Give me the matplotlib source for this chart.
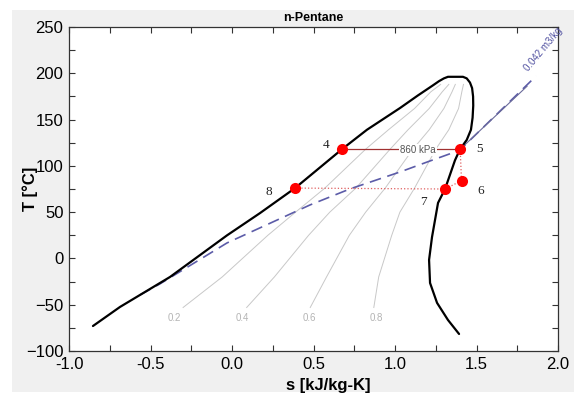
import matplotlib
matplotlib.use("Agg")
import matplotlib.pyplot as plt
from matplotlib.patches import Rectangle

# ---------------- data ----------------
# saturated liquid line (s [kJ/kg-K], T [C])
s_liq = [-0.853, -0.687, -0.38, -0.03, 0.172, 0.387, 0.675, 0.828, 1.031, 1.14, 1.233, 1.27, 1.30, 1.325]
T_liq = [-73, -52.4, -20, 25, 49, 76, 118, 139, 162.5, 176, 187, 191.5, 194.5, 196.2]
# saturated vapour line
s_vap = [1.417, 1.44, 1.46, 1.473, 1.479, 1.48, 1.476, 1.466, 1.44, 1.399, 1.368, 1.307, 1.264,
         1.227, 1.209, 1.215, 1.258, 1.325, 1.393]
T_vap = [196.2, 194.5, 190, 184, 175, 165, 152, 139, 128, 118, 106, 75, 60,
         23, -1.6, -26.5, -48, -66.5, -81.6]

# quality lines
T_q = [-53, -20, 25, 50, 76, 118, 139, 162, 180, 188]
s_q02 = [-0.30, -0.06, 0.22, 0.39, 0.57, 0.82, 0.96, 1.12, 1.22, 1.28]
s_q04 = [0.09, 0.26, 0.47, 0.60, 0.76, 0.97, 1.08, 1.21, 1.29, 1.33]
s_q06 = [0.48, 0.58, 0.72, 0.82, 0.94, 1.11, 1.21, 1.30, 1.35, 1.37]
s_q08 = [0.87, 0.90, 0.98, 1.03, 1.12, 1.25, 1.33, 1.39, 1.41, 1.42]
q_labels = ["0.2", "0.4", "0.6", "0.8"]
q_label_s = [-0.353, 0.061, 0.472, 0.883]
q_label_T = -64

# isochore 0.042 m3/kg
s_v042 = [-0.564, -0.442, -0.031, 0.479, 0.724, 1.031, 1.215, 1.368, 1.405, 1.828, 1.865]
T_v042 = [-39.4, -27.5, 16.7, 57.8, 75.1, 93.4, 105.3, 115.0, 118.3, 190.6, 197.1]
# thin solid line above point 5
s_thin = [1.40, 1.81]
T_thin = [118, 186]

# cycle state points
pt_names = ["4", "5", "6", "7", "8"]
pt_s = [0.675, 1.40, 1.408, 1.307, 0.387]
pt_T = [118, 118, 84, 75, 76]

# ---------------- figure ----------------
fig = plt.figure(figsize=(5.74, 4.03), dpi=100)
fig.patch.set_facecolor("white")
bg = Rectangle((12 / 574, 11 / 403), (574 - 12) / 574, (392 - 10) / 403,
               transform=fig.transFigure, facecolor="#f0f0f0",
               edgecolor="none", zorder=-10)
fig.patches.append(bg)
ax = fig.add_axes([69 / 574, 52 / 403, 489 / 574, 324 / 403])
ax.set_zorder(2)
ax.set_facecolor("white")

# quality lines
for sq, lab, ls_ in zip([s_q02, s_q04, s_q06, s_q08], q_labels, q_label_s):
    ax.plot(sq, T_q, color="#c8c8c8", lw=0.7, zorder=1)
    ax.text(ls_, q_label_T, lab, color="#b4b4b4", fontsize=7,
            ha="center", va="center", family="Liberation Sans")

# saturation dome
ax.plot(s_liq + s_vap, T_liq + T_vap, color="black", lw=1.6, zorder=3,
        solid_joinstyle="round", solid_capstyle="round")

# isochore
ax.plot(s_v042, T_v042, color="#5c5ca8", lw=1.2, dashes=(7, 4), zorder=2)
ax.plot(s_thin, T_thin, color="#6a6a9a", lw=0.8, zorder=2)
ax.text(1.91, 226, "0.042 m3/kg", color="#5050a0", fontsize=7, rotation=50,
        ha="center", va="center", family="Liberation Sans", clip_on=False)

# cycle lines
ax.plot([pt_s[0], pt_s[1]], [pt_T[0], pt_T[1]], color="#a03030", lw=0.9, zorder=4)
ax.plot([pt_s[1], pt_s[2]], [pt_T[1], pt_T[2]], color="#e06060", lw=0.9, ls=":", zorder=4)
ax.plot([pt_s[2], pt_s[3]], [pt_T[2], pt_T[3]], color="#e06060", lw=0.9, ls=":", zorder=4)
ax.plot([pt_s[3], pt_s[4]], [pt_T[3], pt_T[4]], color="#e06060", lw=0.9, ls=":", zorder=4)
ax.plot([pt_s[4], pt_s[0]], [pt_T[4], pt_T[0]], color="#e06060", lw=0.9, ls=":", zorder=2)
ax.text(1.141, 117.5, "860 kPa", color="#555555", fontsize=7, ha="center", va="center",
        family="Liberation Sans", zorder=5,
        bbox=dict(boxstyle="square,pad=0.1", fc="white", ec="none"))

ax.plot(pt_s, pt_T, "o", color="red", ms=8, zorder=6, markeredgewidth=0)
lab_off = [(-0.10, 4), (0.12, 0), (0.12, -11), (-0.13, -14), (-0.16, -4)]
for n, s, t, (dx, dy) in zip(pt_names, pt_s, pt_T, lab_off):
    ax.text(s + dx, t + dy, n, fontsize=9.5, family="Liberation Serif",
            ha="center", va="center", color="#222222")

# axes styling
ax.set_xlim(-1.0, 2.0)
ax.set_ylim(-100, 250)
ax.set_xticks([-1.0, -0.5, 0.0, 0.5, 1.0, 1.5, 2.0])
ax.set_xticks([-0.75, -0.25, 0.25, 0.75, 1.25, 1.75], minor=True)
ax.set_yticks(range(-100, 251, 50))
ax.set_yticks(range(-75, 250, 50), minor=True)
ax.xaxis.set_major_formatter(matplotlib.ticker.FormatStrFormatter("%.1f"))
ax.tick_params(which="both", direction="in", length=4, width=0.8, color="#333333",
               top=True, right=True, labelsize=12)
ax.tick_params(axis="x", pad=4)
ax.tick_params(axis="y", pad=4)
for lab in ax.get_xticklabels() + ax.get_yticklabels():
    lab.set_family("Liberation Sans")
for sp in ax.spines.values():
    sp.set_color("#333333")
    sp.set_linewidth(0.9)

ax.set_title("n-Pentane", fontsize=9, fontweight="bold", family="Liberation Sans", pad=4)
ax.set_xlabel("s [kJ/kg-K]", fontsize=12, fontweight="bold", family="Liberation Sans")
ax.set_ylabel("T [°C]", fontsize=12, fontweight="bold", family="Liberation Sans")
ax.xaxis.set_label_coords(0.53, -0.083)
ax.yaxis.set_label_coords(-0.063, 0.5)

fig.savefig("out.png", dpi=100)
